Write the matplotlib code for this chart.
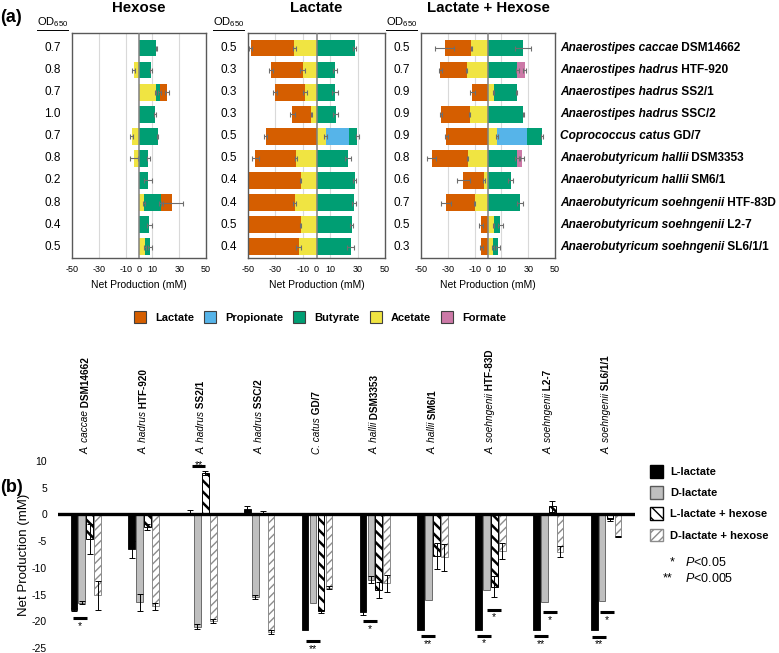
import numpy as np
import matplotlib.pyplot as plt
import matplotlib.transforms as mtransforms
from matplotlib.patches import Patch
from matplotlib.lines import Line2D

plt.rcParams['font.family'] = ['Liberation Sans', 'DejaVu Sans']
plt.rcParams['mathtext.fontset'] = 'custom'
plt.rcParams['mathtext.rm'] = 'Liberation Sans'
plt.rcParams['mathtext.it'] = 'Liberation Sans:italic'
plt.rcParams['mathtext.bf'] = 'Liberation Sans:bold'
plt.rcParams['mathtext.default'] = 'regular'
plt.rcParams['axes.unicode_minus'] = False

# Strains (same order in both panels)
species = ['Anaerostipes caccae', 'Anaerostipes hadrus', 'Anaerostipes hadrus', 'Anaerostipes hadrus',
           'Coprococcus catus', 'Anaerobutyricum hallii', 'Anaerobutyricum hallii',
           'Anaerobutyricum soehngenii', 'Anaerobutyricum soehngenii', 'Anaerobutyricum soehngenii']
strains = ['DSM14662', 'HTF-920', 'SS2/1', 'SSC/2', 'GD/7', 'DSM3353', 'SM6/1', 'HTF-83D', 'L2-7', 'SL6/1/1']
short_species = ['A. caccae', 'A. hadrus', 'A. hadrus', 'A. hadrus', 'C. catus', 'A. hallii', 'A. hallii',
                 'A. soehngenii', 'A. soehngenii', 'A. soehngenii']

compounds = ['Lactate', 'Propionate', 'Butyrate', 'Acetate', 'Formate']
compound_colors = ['#D55E00', '#56B4E9', '#009E73', '#F0E442', '#CC79A7']
stack_order = ['Acetate', 'Propionate', 'Butyrate', 'Formate', 'Lactate']

# (a) OD650 per condition
od_hexose = ['0.7', '0.8', '0.7', '1.0', '0.7', '0.8', '0.2', '0.8', '0.4', '0.5']
od_lactate = ['0.5', '0.3', '0.3', '0.3', '0.5', '0.5', '0.4', '0.4', '0.5', '0.4']
od_lachex = ['0.5', '0.7', '0.9', '0.9', '0.9', '0.8', '0.6', '0.7', '0.5', '0.3']

# (a) Hexose, net production (mM)
hex_lactate = [0, 0, 5.5, 0, 0, 0, 0, 8, 0, 0]
hex_acetate = [0, -4, 12.5, 0, -5.5, -3.5, 0, 3.7, 0, 4.5]
hex_butyrate = [13, 9, 3, 12, 14, 7, 6.7, 13, 7.7, 3.7]
hex_lactate_err = [0, 0, 1.5, 0, 0, 0, 0, 8, 0, 0]
hex_acetate_err = [0, 1, 0.5, 0, 1, 3, 0, 0.5, 0, 0.5]
hex_butyrate_err = [0.5, 0.5, 1, 0.5, 0.5, 1, 2.8, 1.5, 1.8, 1.5]

# (a) Lactate
lac_lactate = [-31.7, -22.8, -21.5, -13.9, -37, -29.6, -38.5, -34, -38.5, -37]
lac_acetate = [-16.3, -10.2, -8.5, -3.7, 6.8, -15, -11.5, -16, -11.5, -13]
lac_propionate = [0, 0, 0, 0, 16.8, 0, 0, 0, 0, 0]
lac_butyrate = [28, 13.4, 13.4, 14, 6.3, 23, 28, 27.5, 25.6, 24.9]
lac_lactate_err = [1, 1.5, 1.5, 2, 1, 2.5, 0, 0, 0, 0]
lac_acetate_err = [1, 2, 1.5, 0.5, 1, 0.5, 0.5, 1, 0.5, 2]
lac_butyrate_err = [1, 1.5, 2, 2, 1, 2.5, 1, 1.5, 1, 2.5]

# (a) Lactate + Hexose
lh_lactate = [-19.7, -19.6, -11.8, -21.2, -31, -26.8, -15.4, -21.4, -5, -5]
lh_acetate = [-12.5, -16, 4.2, -13.8, 6.6, -15.2, -3, -10, 4.2, 3.7]
lh_propionate = [0, 0, 0, 0, 22.6, 0, 0, 0, 0, 0]
lh_butyrate = [26, 22, 17.2, 26.3, 11, 21.4, 17, 23.8, 5, 3.5]
lh_formate = [0, 5.4, 0, 0, 0, 4, 0, 0, 0, 0]
lh_lactate_err = [7, 1, 2, 1, 1, 3.5, 5, 4, 1.5, 1]
lh_acetate_err = [0.5, 0.5, 0.5, 0.5, 0.5, 0.5, 0.5, 0.5, 0.5, 0.5]
lh_butyrate_err = [6, 1, 0.5, 0.5, 1, 1.5, 2, 2, 2, 1.5]
lh_formate_err = [0, 1, 0, 0, 0, 1.5, 0, 0, 0, 0]

# (b) Net production (mM)
l_lactate = [-17.8, -6.5, 0.3, 1.1, -21.7, -18.3, -21.6, -21.6, -21.6, -21.6]
d_lactate = [-16.5, -16.4, -21.0, -15.4, -16.5, -12.2, -16.0, -14.2, -16.3, -16.2]
l_lactate_hex = [-4.6, -2.4, 7.8, 0.3, -18.1, -14.2, -7.8, -13.5, 1.5, -0.9]
d_lactate_hex = [-15.1, -17.2, -20.0, -22.0, -13.7, -12.9, -8.0, -6.8, -7.0, -4.2]
l_lactate_err = [0.3, 1.6, 0.5, 0.5, 0, 0.5, 0, 0, 0, 0]
d_lactate_err = [0.3, 1.6, 0.5, 0.4, 0, 0.6, 0, 0, 0, 0]
l_lactate_hex_err = [2.8, 0.6, 0.4, 0.3, 0.3, 1.5, 2.4, 2.0, 1.1, 0.3]
d_lactate_hex_err = [2.7, 0.6, 0.4, 0.3, 0.3, 1.6, 2.5, 1.5, 1.0, 0.1]

# significance markers (b)
sig_group = [0, 2, 4, 5, 6, 7, 7, 8, 8, 9, 9]
sig_offset = [-0.10, -0.05, -0.07, -0.09, -0.08, 0.06, -0.11, 0.03, -0.13, 0.02, -0.12]
sig_y = [-19.4, 9.0, -23.7, -20.0, -22.8, -17.8, -22.7, -18.3, -22.8, -18.3, -22.9]
sig_label = ['*', '**', '**', '*', '**', '*', '*', '*', '**', '*', '**']

W, H = 779, 653
fig = plt.figure(figsize=(W / 100, H / 100), dpi=100)


def px_axes(x0, y0, x1, y1):
    return fig.add_axes([x0 / W, 1 - y1 / H, (x1 - x0) / W, (y1 - y0) / H])


colors = dict(zip(compounds, compound_colors))
n = len(species)
rows = np.arange(n)


def stacked_panel(ax, values, errors, title, od):
    pos = np.zeros(n)
    neg = np.zeros(n)
    for name in stack_order:
        v = np.asarray(values.get(name, np.zeros(n)), float)
        e = np.asarray(errors.get(name, np.zeros(n)), float)
        left = np.where(v >= 0, pos, neg)
        ax.barh(rows, v, left=left, height=0.76, color=colors[name], lw=0, zorder=2)
        end = left + v
        m = (v != 0) & (e > 0)
        if m.any():
            ax.errorbar(end[m], rows[m], xerr=e[m], fmt='none', ecolor='#6e6e6e',
                        elinewidth=0.8, capsize=1.8, capthick=0.8, zorder=3)
        pos = pos + np.clip(v, 0, None)
        neg = neg + np.clip(v, None, 0)

    ax.set_xlim(-50, 50)
    ax.set_ylim(9.51, -0.68)
    ax.set_xticks([-50, -30, -10, 0, 10, 30, 50])
    ax.set_yticks([])
    ax.tick_params(axis='x', length=0, labelsize=6.5, pad=5)
    for x in [-30, -10, 10, 30]:
        ax.axvline(x, color='#d9d9d9', lw=0.8, zorder=1)
    ax.axvline(0, color='#808080', lw=1.1, zorder=4)
    for s in ax.spines.values():
        s.set_color('#595959')
        s.set_linewidth(1.0)
    ax.set_xlabel('Net Production (mM)', fontsize=7.5, labelpad=4)
    ax.text(0.5, 1.11, title, transform=ax.transAxes, ha='center', va='center',
            fontsize=10.8, fontweight='bold')

    tr = mtransforms.blended_transform_factory(ax.transAxes, ax.transData)
    off = mtransforms.ScaledTranslation(-11 / 100, 0, fig.dpi_scale_trans)
    for i in rows:
        ax.text(0, i, od[i], transform=tr + off, ha='right', va='center', fontsize=8.5)
    off2 = mtransforms.ScaledTranslation(-4 / 100, 0, fig.dpi_scale_trans)
    hdr = ax.text(0, 1.048, 'OD$_{650}$', transform=ax.transAxes + off2, ha='right',
                  va='center', fontsize=8)
    return hdr


ax_hex = px_axes(72, 33, 206, 258)
ax_lac = px_axes(248, 33, 385, 258)
ax_lh = px_axes(421, 33, 555, 258)

headers = []
headers.append(stacked_panel(
    ax_hex,
    {'Lactate': hex_lactate, 'Acetate': hex_acetate, 'Butyrate': hex_butyrate},
    {'Lactate': hex_lactate_err, 'Acetate': hex_acetate_err, 'Butyrate': hex_butyrate_err},
    'Hexose', od_hexose))
headers.append(stacked_panel(
    ax_lac,
    {'Lactate': lac_lactate, 'Acetate': lac_acetate, 'Propionate': lac_propionate,
     'Butyrate': lac_butyrate},
    {'Lactate': lac_lactate_err, 'Acetate': lac_acetate_err, 'Butyrate': lac_butyrate_err},
    'Lactate', od_lactate))
headers.append(stacked_panel(
    ax_lh,
    {'Lactate': lh_lactate, 'Acetate': lh_acetate, 'Propionate': lh_propionate,
     'Butyrate': lh_butyrate, 'Formate': lh_formate},
    {'Lactate': lh_lactate_err, 'Acetate': lh_acetate_err, 'Butyrate': lh_butyrate_err,
     'Formate': lh_formate_err},
    'Lactate + Hexose', od_lachex))

# strain names on the right
tr = mtransforms.blended_transform_factory(ax_lh.transAxes, ax_lh.transData)
for i in rows:
    t1 = ax_lh.text(1 + 5 / 134, i, species[i], transform=tr, ha='left', va='center',
                    fontsize=8.6, fontweight='bold', fontstyle='italic')
    ax_lh.annotate(' ' + strains[i], xy=(1, 0), xycoords=t1, ha='left', va='bottom',
                   fontsize=8.6, fontweight='bold')

fig.text(0 / W, 1 - 17 / H, '(a)', fontsize=13, fontweight='bold', ha='left', va='center')

handles = [Patch(facecolor=c, edgecolor='#404040', lw=0.8) for c in compound_colors]
fig.legend(handles, compounds, loc='center', bbox_to_anchor=(320 / W, 1 - 317 / H), ncol=5,
           frameon=False, prop={'size': 8, 'weight': 'bold'}, handlelength=1.1,
           handleheight=1.4, handletextpad=0.8, columnspacing=0.9)

# (b)
axb = px_axes(58, 461, 635, 648)
xg = np.arange(n)
w = 0.115
offs = [-0.205, -0.068, 0.068, 0.205]

axb.bar(xg + offs[0], l_lactate, w, color='black', edgecolor='black', lw=0.6, zorder=2)
axb.bar(xg + offs[1], d_lactate, w, color='#bfbfbf', edgecolor='#595959', lw=0.6, zorder=2)
with plt.rc_context({'hatch.linewidth': 1.8}):
    b3 = axb.bar(xg + offs[2], l_lactate_hex, w, color='white', edgecolor='black', lw=0.7,
                 hatch='\\\\\\', zorder=2)
with plt.rc_context({'hatch.linewidth': 1.0}):
    b4 = axb.bar(xg + offs[3], d_lactate_hex, w, color='white', edgecolor='#8c8c8c', lw=0.7,
                 hatch='////', zorder=2)
for p in b3:
    if hasattr(p, 'set_hatch_linewidth'):
        p.set_hatch_linewidth(1.8)
for p in b4:
    if hasattr(p, 'set_hatch_linewidth'):
        p.set_hatch_linewidth(1.0)

for k, (vals, errs) in enumerate([(l_lactate, l_lactate_err), (d_lactate, d_lactate_err),
                                  (l_lactate_hex, l_lactate_hex_err),
                                  (d_lactate_hex, d_lactate_hex_err)]):
    e = np.asarray(errs)
    m = e > 0
    axb.errorbar((xg + offs[k])[m], np.asarray(vals)[m], yerr=e[m], fmt='none', ecolor='black',
                 elinewidth=0.7, capsize=2, capthick=0.7, zorder=3)

axb.axhline(0, color='black', lw=2.4, zorder=5)
axb.set_xlim(-0.48, 9.5)
axb.set_ylim(-25, 10)
axb.set_yticks([10, 5, 0, -5, -10, -15, -20, -25])
axb.set_xticks([])
axb.tick_params(axis='y', length=0, labelsize=7.5, pad=8)
for s in axb.spines.values():
    s.set_visible(False)
axb.set_ylabel('Net Production (mM)', fontsize=9.5, labelpad=1)

for g, o, y, lab in zip(sig_group, sig_offset, sig_y, sig_label):
    xc = g + o
    axb.plot([xc - 0.12, xc + 0.12], [y, y], color='black', lw=2.2, solid_capstyle='butt',
             clip_on=False, zorder=6)
    if y > 0:
        axb.annotate(lab, (xc, y), xytext=(0, -1.2), textcoords='offset points', ha='center',
                     va='baseline', fontsize=7.5, annotation_clip=False)
    else:
        axb.annotate(lab, (xc, y), xytext=(0, -7.6), textcoords='offset points', ha='center',
                     va='baseline', fontsize=7.5, annotation_clip=False)

trb = mtransforms.blended_transform_factory(axb.transData, axb.transAxes)
for i in xg:
    t1 = axb.text(i, 1 + 7 / 187, short_species[i], transform=trb, rotation=90, ha='center',
                  va='bottom', fontsize=7.2, fontstyle='italic')
    axb.annotate(' ' + strains[i], xy=(0.5, 1), xycoords=t1, rotation=90, ha='center',
                 va='bottom', fontsize=7.2, fontweight='bold')

fig.text(0 / W, 1 - 487 / H, '(b)', fontsize=13, fontweight='bold', ha='left', va='center')

hb = [Patch(facecolor='black', edgecolor='black'),
      Patch(facecolor='#bfbfbf', edgecolor='#595959'),
      Patch(facecolor='white', edgecolor='black', hatch='\\\\\\'),
      Patch(facecolor='white', edgecolor='#8c8c8c', hatch='////')]
fig.legend(hb, ['L-lactate', 'D-lactate', 'L-lactate + hexose', 'D-lactate + hexose'],
           loc='upper left', bbox_to_anchor=(650 / W, 1 - 465 / H), frameon=False,
           prop={'size': 8, 'weight': 'bold'}, handlelength=1.2, handleheight=1.4,
           labelspacing=0.75, handletextpad=0.6, borderpad=0, borderaxespad=0)

fig.text(672 / W, 1 - 562 / H, '*', fontsize=9, ha='center', va='center')
fig.text(685 / W, 1 - 562 / H, '$\\it{P}$<0.05', fontsize=9, ha='left', va='center')
fig.text(668 / W, 1 - 578 / H, '**', fontsize=9, ha='center', va='center')
fig.text(685 / W, 1 - 578 / H, '$\\it{P}$<0.005', fontsize=9, ha='left', va='center')

# underline the OD650 headers
fig.canvas.draw()
for t in headers:
    bb = t.get_window_extent()
    yl = (bb.y0 - 0.5) / H
    fig.add_artist(Line2D([bb.x0 / W, bb.x1 / W], [yl, yl], transform=fig.transFigure,
                          color='black', lw=0.7))

fig.savefig('out.png', dpi=100)
